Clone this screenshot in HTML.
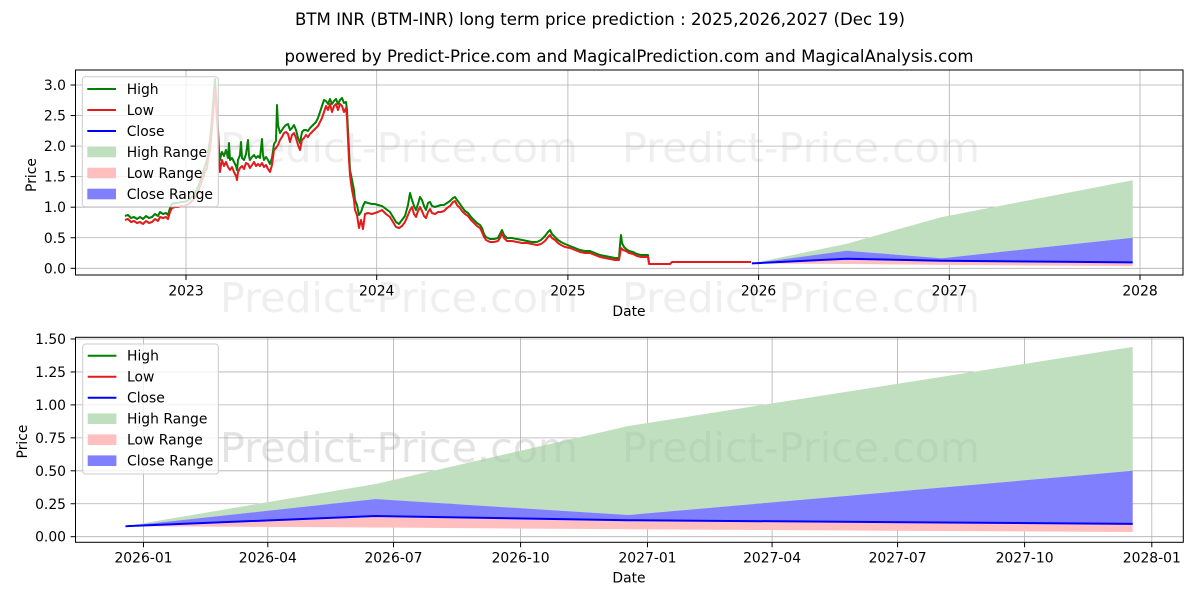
<!DOCTYPE html>
<html>
<head>
<meta charset="utf-8">
<style>
html,body{margin:0;padding:0;background:#fff;}
svg{display:block;}
text{font-family:"DejaVu Sans","Liberation Sans",sans-serif;}
</style>
</head>
<body>
<svg width="1200" height="600" viewBox="0 0 1200 600" xmlns="http://www.w3.org/2000/svg">
<defs>
<clipPath id="c1"><rect x="75.5" y="70" width="1107.5" height="205"/></clipPath>
<clipPath id="c2"><rect x="75.5" y="337.3" width="1107.8" height="205"/></clipPath>
</defs>
<rect width="1200" height="600" fill="#fff"/>

<!-- Titles -->
<text x="600" y="25" font-size="16.5" text-anchor="middle" textLength="610" lengthAdjust="spacingAndGlyphs">BTM INR (BTM-INR) long term price prediction : 2025,2026,2027 (Dec 19)</text>
<text x="629" y="62" font-size="16.5" text-anchor="middle" textLength="689" lengthAdjust="spacingAndGlyphs">powered by Predict-Price.com and MagicalPrediction.com and MagicalAnalysis.com</text>

<!-- ===== TOP AXES ===== -->
<g stroke="#b0b0b0" stroke-width="0.8">
<line x1="186" y1="70" x2="186" y2="275"/>
<line x1="376.7" y1="70" x2="376.7" y2="275"/>
<line x1="567.9" y1="70" x2="567.9" y2="275"/>
<line x1="758.6" y1="70" x2="758.6" y2="275"/>
<line x1="949.3" y1="70" x2="949.3" y2="275"/>
<line x1="1140" y1="70" x2="1140" y2="275"/>
<line x1="75.5" y1="268.3" x2="1183" y2="268.3"/>
<line x1="75.5" y1="237.75" x2="1183" y2="237.75"/>
<line x1="75.5" y1="207.2" x2="1183" y2="207.2"/>
<line x1="75.5" y1="176.65" x2="1183" y2="176.65"/>
<line x1="75.5" y1="146.1" x2="1183" y2="146.1"/>
<line x1="75.5" y1="115.55" x2="1183" y2="115.55"/>
<line x1="75.5" y1="85" x2="1183" y2="85"/>
</g>

<g clip-path="url(#c1)">
<polygon fill="#bfdfbf" points="751.8,263.4 846.4,243.9 942,217 1132.7,180.3 1132.7,237.8 942,258.2 846.4,250.8"/>
<polygon fill="#ffbfbf" points="751.8,263.4 846.4,258.7 942,260.7 1132.7,262.4 1132.7,266.1 942,264.9 846.4,264"/>
<polygon fill="#8080ff" points="751.8,263.4 846.4,250.8 942,258.2 1132.7,237.8 1132.7,262.4 942,260.7 846.4,258.7"/>

<polyline fill="none" stroke="#008000" stroke-width="2" stroke-linejoin="round" points="125,216 128,215 131,218 134,217 137,219 140,217 143,219 146,216 149,218 152,217 155,214 158,216 160,212 163,214 166,213 168,215 170,208 172,204 175,203 178,203 181,202 184,202 187,201 190,199 193,196 196,191 199,185 201,178 203,172 205,166 207,160 208,152 210,140 211,130 212,118 213,105 214,90 215,79 216,95 217,110 218,130 219,150 220,160 221,155 222,152 224,156 226,150 228,158 229,143 230,160 232,158 234,162 236,166 237,170 238,160 240,155 241,142 242,158 244,160 246,154 248,140 249,156 250,160 252,157 254,155 256,158 258,156 260,158 262,139 263,155 264,160 266,157 268,160 270,164 272,158 274,144 276,141 277,105 278,125 280,133 282,130 284,127 286,125 288,124 290,130 292,128 294,125 296,130 298,138 300,143 302,132 304,130 306,130 308,131 310,128 312,126 314,124 316,122 318,118 320,112 322,106 324,100 326,101 328,104 330,99 332,104 334,101 336,99 338,104 340,100 342,98 344,103 346,102 347,110 348,130 349,150 350,170 351,175 352,180 354,190 355,200 357,205 359,215 361,212 363,206 365,202 368,203 372,204 375,204 378,205 382,206 386,209 390,212 393,217 396,222 399,224 402,220 405,216 408,205 410,193 412,200 414,206 416,210 418,204 420,197 422,200 424,206 426,210 428,203 430,202 432,206 435,207 438,206 441,205 444,205 447,203 450,201 453,198 455,197 457,200 460,204 462,207 465,211 468,213 471,217 474,220 477,223 480,225 482,228 484,234 486,237 490,239 494,239 498,238 500,234 502,230 504,235 507,238 512,238 517,239 522,240 527,241 532,242 537,242 541,240 545,236 548,232 550,230 552,234 555,237 558,240 561,242 565,244 570,246 575,248 580,250 585,251 590,251 595,253 600,255 605,256 610,257 615,258 619,258 620,245 621,235 622,243 624,247 626,249 629,251 633,252 637,254 641,255 645,255 648,255 649,263"/>

<polyline fill="none" stroke="#e41a1c" stroke-width="2" stroke-linejoin="round" points="125,220 128,219 131,222 134,221 137,223 140,222 143,224 146,221 149,223 152,222 155,219 158,221 160,217 163,218 166,217 168,219 170,212 172,208 175,207 178,207 181,206 184,206 187,205 190,203 193,200 196,196 199,190 201,183 203,178 205,172 207,168 208,160 210,150 211,140 212,128 213,115 214,100 215,88 216,105 217,120 218,135 219,160 220,172 221,165 222,160 224,166 226,162 228,167 230,170 232,167 234,172 236,176 237,180 238,172 240,168 242,166 244,169 246,163 248,164 250,168 252,165 254,162 256,166 258,164 260,166 262,163 264,167 266,165 268,169 270,172 272,165 274,150 276,148 278,145 280,140 282,137 284,133 286,132 288,134 290,142 292,135 294,133 296,138 298,145 300,150 302,140 304,138 306,135 308,137 310,134 312,132 314,130 316,128 318,126 320,122 322,118 324,112 326,106 328,110 330,104 332,112 334,106 336,104 338,110 340,104 342,106 344,112 346,108 347,118 348,140 349,160 350,175 351,183 352,190 354,200 355,210 357,215 359,228 361,220 363,229 365,214 368,213 372,214 375,213 378,212 382,210 386,214 390,217 393,222 396,227 399,228 402,226 405,222 408,215 410,210 412,207 414,214 416,217 418,211 420,207 422,211 424,216 426,218 428,212 430,209 432,213 435,214 438,212 441,212 444,211 447,208 450,206 453,202 455,201 457,205 460,208 462,211 465,214 468,216 471,220 474,223 477,226 480,228 482,232 484,237 486,240 490,242 494,242 498,241 500,238 502,233 504,238 507,241 512,241 517,242 522,243 527,243 532,244 537,245 541,244 545,241 548,237 550,235 552,238 555,240 558,243 561,245 565,247 570,248 575,250 580,252 585,253 590,253 595,255 600,257 605,258 610,259 615,260 619,260 620,254 621,248 623,250 626,251 629,253 633,254 637,256 641,257 645,257 648,257 649,264 655,264 660,264 665,264 670,264 672,262 700,262 730,262 751,262"/>

<polyline fill="none" stroke="#0000ff" stroke-width="2" points="751.8,263.4 846.4,258.7 942,260.7 1132.7,262.4"/>
</g>

<!-- watermarks -->
<g fill="#808080" fill-opacity="0.13" font-size="41">
<text x="220" y="162" textLength="358" lengthAdjust="spacingAndGlyphs">Predict-Price.com</text>
<text x="622" y="162" textLength="358" lengthAdjust="spacingAndGlyphs">Predict-Price.com</text>
<text x="220" y="312" textLength="358" lengthAdjust="spacingAndGlyphs">Predict-Price.com</text>
<text x="622" y="312" textLength="358" lengthAdjust="spacingAndGlyphs">Predict-Price.com</text>
<text x="220" y="462" textLength="358" lengthAdjust="spacingAndGlyphs">Predict-Price.com</text>
<text x="622" y="462" textLength="358" lengthAdjust="spacingAndGlyphs">Predict-Price.com</text>
</g>

<!-- top spines -->
<rect x="75.5" y="70" width="1107.5" height="205" fill="none" stroke="#000" stroke-width="1"/>
<!-- top ticks -->
<g stroke="#000" stroke-width="1">
<line x1="186" y1="275" x2="186" y2="280"/>
<line x1="376.7" y1="275" x2="376.7" y2="280"/>
<line x1="567.9" y1="275" x2="567.9" y2="280"/>
<line x1="758.6" y1="275" x2="758.6" y2="280"/>
<line x1="949.3" y1="275" x2="949.3" y2="280"/>
<line x1="1140" y1="275" x2="1140" y2="280"/>
<line x1="70.6" y1="268.3" x2="75.5" y2="268.3"/>
<line x1="70.6" y1="237.75" x2="75.5" y2="237.75"/>
<line x1="70.6" y1="207.2" x2="75.5" y2="207.2"/>
<line x1="70.6" y1="176.65" x2="75.5" y2="176.65"/>
<line x1="70.6" y1="146.1" x2="75.5" y2="146.1"/>
<line x1="70.6" y1="115.55" x2="75.5" y2="115.55"/>
<line x1="70.6" y1="85" x2="75.5" y2="85"/>
</g>
<g font-size="13.9" fill="#000" text-anchor="middle">
<text x="186" y="295.5">2023</text>
<text x="376.7" y="295.5">2024</text>
<text x="567.9" y="295.5">2025</text>
<text x="758.6" y="295.5">2026</text>
<text x="949.3" y="295.5">2027</text>
<text x="1140" y="295.5">2028</text>
<text x="629" y="316">Date</text>
</g>
<g font-size="13.9" fill="#000" text-anchor="end">
<text x="66" y="273.3">0.0</text>
<text x="66" y="242.75">0.5</text>
<text x="66" y="212.2">1.0</text>
<text x="66" y="181.65">1.5</text>
<text x="66" y="151.1">2.0</text>
<text x="66" y="120.55">2.5</text>
<text x="66" y="90">3.0</text>
</g>
<text transform="translate(36,175) rotate(-90)" font-size="13.9" text-anchor="middle">Price</text>

<!-- top legend -->
<rect x="82.3" y="76.7" width="136" height="130" rx="3" fill="#fff" fill-opacity="0.8" stroke="#cccccc" stroke-width="1"/>
<line x1="87.3" y1="89" x2="116" y2="89" stroke="#008000" stroke-width="2"/>
<line x1="87.3" y1="110" x2="116" y2="110" stroke="#e41a1c" stroke-width="2"/>
<line x1="87.3" y1="131" x2="116" y2="131" stroke="#0000ff" stroke-width="2"/>
<rect x="87.3" y="146.7" width="28.7" height="10.6" fill="#bfdfbf"/>
<rect x="87.3" y="167.7" width="28.7" height="10.6" fill="#ffbfbf"/>
<rect x="87.3" y="188.7" width="28.7" height="10.6" fill="#8080ff"/>
<g font-size="13.9" fill="#000">
<text x="126.7" y="94">High</text>
<text x="126.7" y="115">Low</text>
<text x="126.7" y="136">Close</text>
<text x="126.7" y="157">High Range</text>
<text x="126.7" y="178">Low Range</text>
<text x="126.7" y="199">Close Range</text>
</g>

<!-- ===== BOTTOM AXES ===== -->
<g stroke="#b0b0b0" stroke-width="0.8">
<line x1="143.5" y1="337.3" x2="143.5" y2="542.3"/>
<line x1="267.8" y1="337.3" x2="267.8" y2="542.3"/>
<line x1="393.5" y1="337.3" x2="393.5" y2="542.3"/>
<line x1="520.6" y1="337.3" x2="520.6" y2="542.3"/>
<line x1="647.5" y1="337.3" x2="647.5" y2="542.3"/>
<line x1="772.1" y1="337.3" x2="772.1" y2="542.3"/>
<line x1="897.6" y1="337.3" x2="897.6" y2="542.3"/>
<line x1="1024.6" y1="337.3" x2="1024.6" y2="542.3"/>
<line x1="1151.8" y1="337.3" x2="1151.8" y2="542.3"/>
<line x1="75.5" y1="536.7" x2="1183.3" y2="536.7"/>
<line x1="75.5" y1="503.75" x2="1183.3" y2="503.75"/>
<line x1="75.5" y1="470.8" x2="1183.3" y2="470.8"/>
<line x1="75.5" y1="437.85" x2="1183.3" y2="437.85"/>
<line x1="75.5" y1="404.9" x2="1183.3" y2="404.9"/>
<line x1="75.5" y1="371.95" x2="1183.3" y2="371.95"/>
<line x1="75.5" y1="339" x2="1183.3" y2="339"/>
</g>

<g clip-path="url(#c2)">
<polygon fill="#bfdfbf" points="125.5,526.2 375.6,484 628.4,426 1132.7,346.9 1132.7,470.8 628.4,515 375.6,499"/>
<polygon fill="#ffbfbf" points="125.5,526.2 375.6,516 628.4,520.2 1132.7,523.9 1132.7,532 628.4,529.3 375.6,527.5"/>
<polygon fill="#8080ff" points="125.5,526.2 375.6,499 628.4,515 1132.7,470.8 1132.7,523.9 628.4,520.2 375.6,516"/>
<polyline fill="none" stroke="#0000ff" stroke-width="2" points="125.5,526.2 375.6,516 628.4,520.2 1132.7,523.9"/>
</g>
<!-- re-draw bottom watermarks over fills -->
<g fill="#808080" fill-opacity="0.1" font-size="41">
<text x="622" y="462" textLength="358" lengthAdjust="spacingAndGlyphs">Predict-Price.com</text>
<text x="220" y="462" textLength="358" lengthAdjust="spacingAndGlyphs">Predict-Price.com</text>
</g>

<rect x="75.5" y="337.3" width="1107.8" height="205" fill="none" stroke="#000" stroke-width="1"/>
<g stroke="#000" stroke-width="1">
<line x1="143.5" y1="542.3" x2="143.5" y2="547.2"/>
<line x1="267.8" y1="542.3" x2="267.8" y2="547.2"/>
<line x1="393.5" y1="542.3" x2="393.5" y2="547.2"/>
<line x1="520.6" y1="542.3" x2="520.6" y2="547.2"/>
<line x1="647.5" y1="542.3" x2="647.5" y2="547.2"/>
<line x1="772.1" y1="542.3" x2="772.1" y2="547.2"/>
<line x1="897.6" y1="542.3" x2="897.6" y2="547.2"/>
<line x1="1024.6" y1="542.3" x2="1024.6" y2="547.2"/>
<line x1="1151.8" y1="542.3" x2="1151.8" y2="547.2"/>
<line x1="70.6" y1="536.7" x2="75.5" y2="536.7"/>
<line x1="70.6" y1="503.75" x2="75.5" y2="503.75"/>
<line x1="70.6" y1="470.8" x2="75.5" y2="470.8"/>
<line x1="70.6" y1="437.85" x2="75.5" y2="437.85"/>
<line x1="70.6" y1="404.9" x2="75.5" y2="404.9"/>
<line x1="70.6" y1="371.95" x2="75.5" y2="371.95"/>
<line x1="70.6" y1="339" x2="75.5" y2="339"/>
</g>
<g font-size="13.9" fill="#000" text-anchor="middle">
<text x="143.5" y="562.5">2026-01</text>
<text x="267.8" y="562.5">2026-04</text>
<text x="393.5" y="562.5">2026-07</text>
<text x="520.6" y="562.5">2026-10</text>
<text x="647.5" y="562.5">2027-01</text>
<text x="772.1" y="562.5">2027-04</text>
<text x="897.6" y="562.5">2027-07</text>
<text x="1024.6" y="562.5">2027-10</text>
<text x="1151.8" y="562.5">2028-01</text>
<text x="629" y="582.5">Date</text>
</g>
<g font-size="13.9" fill="#000" text-anchor="end">
<text x="66" y="541.7">0.00</text>
<text x="66" y="508.75">0.25</text>
<text x="66" y="475.8">0.50</text>
<text x="66" y="442.85">0.75</text>
<text x="66" y="409.9">1.00</text>
<text x="66" y="376.95">1.25</text>
<text x="66" y="344">1.50</text>
</g>
<text transform="translate(27,441.5) rotate(-90)" font-size="13.9" text-anchor="middle">Price</text>

<!-- bottom legend -->
<rect x="82.7" y="344" width="135.6" height="130" rx="3" fill="#fff" fill-opacity="0.8" stroke="#cccccc" stroke-width="1"/>
<line x1="87.7" y1="355.7" x2="116.4" y2="355.7" stroke="#008000" stroke-width="2"/>
<line x1="87.7" y1="376.7" x2="116.4" y2="376.7" stroke="#e41a1c" stroke-width="2"/>
<line x1="87.7" y1="397.7" x2="116.4" y2="397.7" stroke="#0000ff" stroke-width="2"/>
<rect x="87.7" y="413.4" width="28.7" height="10.6" fill="#bfdfbf"/>
<rect x="87.7" y="434.4" width="28.7" height="10.6" fill="#ffbfbf"/>
<rect x="87.7" y="455.4" width="28.7" height="10.6" fill="#8080ff"/>
<g font-size="13.9" fill="#000">
<text x="127" y="360.7">High</text>
<text x="127" y="381.7">Low</text>
<text x="127" y="402.7">Close</text>
<text x="127" y="423.7">High Range</text>
<text x="127" y="444.7">Low Range</text>
<text x="127" y="465.7">Close Range</text>
</g>
</svg>
</body>
</html>
